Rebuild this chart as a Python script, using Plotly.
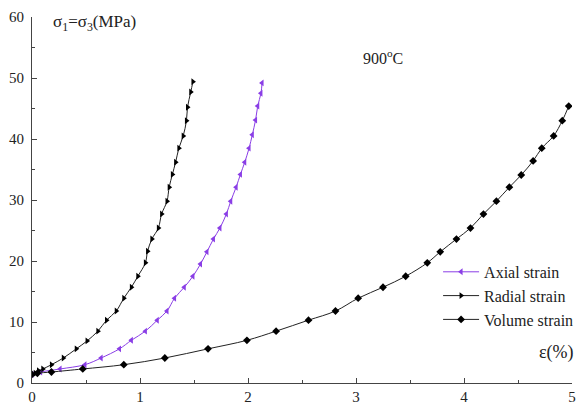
import plotly.graph_objects as go

axial_x = [0.00, 0.08, 0.26, 0.49, 0.64, 0.81, 0.92, 1.05, 1.16, 1.25, 1.32, 1.41, 1.49, 1.56,
           1.62, 1.68, 1.74, 1.80, 1.84, 1.89, 1.93, 1.97, 2.01, 2.04, 2.07, 2.09, 2.12, 2.13]
axial_y = [1.4, 1.8, 2.3, 3.0, 4.1, 5.6, 7.0, 8.5, 10.3, 11.8, 13.9, 15.7, 17.5, 19.5,
           21.5, 23.6, 25.4, 27.7, 29.8, 32.1, 34.2, 36.2, 38.5, 40.7, 43.1, 45.4, 47.5, 49.2]

radial_x = [0.00, 0.03, 0.06, 0.10, 0.18, 0.29, 0.41, 0.51, 0.61, 0.69, 0.78, 0.85, 0.92, 0.98,
            1.05, 1.07, 1.11, 1.17, 1.20, 1.25, 1.27, 1.30, 1.33, 1.36, 1.40, 1.43, 1.44, 1.47, 1.49]
radial_y = [1.4, 1.6, 2.0, 2.3, 3.0, 4.1, 5.6, 6.9, 8.5, 10.3, 11.8, 13.9, 15.7, 17.5,
            19.7, 21.6, 23.6, 25.4, 27.7, 29.8, 32.1, 34.2, 36.2, 38.5, 40.5, 43.0, 45.2, 47.7, 49.4]

volume_x = [0.00, 0.05, 0.18, 0.47, 0.85, 1.23, 1.63, 1.99, 2.26, 2.56, 2.81, 3.02, 3.25, 3.46,
            3.66, 3.78, 3.93, 4.06, 4.18, 4.30, 4.42, 4.53, 4.64, 4.72, 4.83, 4.91, 4.97]
volume_y = [1.4, 1.6, 1.8, 2.3, 3.0, 4.1, 5.6, 7.0, 8.5, 10.3, 11.8, 13.9, 15.7, 17.5,
            19.7, 21.5, 23.6, 25.4, 27.7, 29.8, 32.1, 34.1, 36.4, 38.5, 40.5, 43.0, 45.4]

FONT = "Liberation Serif"
PURPLE = "#8a3ee6"

fig = go.Figure()
fig.add_trace(go.Scatter(x=axial_x, y=axial_y, mode="lines+markers", name="Axial strain",
                         line=dict(color=PURPLE, width=1, shape="spline"),
                         marker=dict(symbol="triangle-left", size=6, color=PURPLE)))
fig.add_trace(go.Scatter(x=radial_x, y=radial_y, mode="lines+markers", name="Radial strain",
                         line=dict(color="#222222", width=1, shape="spline"),
                         marker=dict(symbol="triangle-right", size=6, color="#000000")))
fig.add_trace(go.Scatter(x=volume_x, y=volume_y, mode="lines+markers", name="Volume strain",
                         line=dict(color="#222222", width=1, shape="spline"),
                         marker=dict(symbol="diamond", size=6, color="#000000")))

axis_common = dict(showgrid=False, zeroline=False, showline=True, linecolor="#444444",
                   linewidth=1.2, ticks="inside", ticklen=5, tickcolor="#444444",
                   tickfont=dict(family=FONT, size=15, color="#222222"),
                   minor=dict(ticks="inside", ticklen=3, tickcolor="#444444"))

fig.update_xaxes(range=[0, 5], tick0=0, dtick=1, minor_dtick=0.5, automargin=False,
                 **axis_common)
fig.update_yaxes(range=[0, 60], tick0=0, dtick=10, minor_dtick=5, ticklabelstandoff=4,
                 automargin=False, **axis_common)

fig.update_layout(
    width=577, height=409,
    margin=dict(l=32, r=5, t=17, b=26, autoexpand=False),
    plot_bgcolor="white", paper_bgcolor="white",
    font=dict(family=FONT, size=14, color="#222222"),
    legend=dict(x=0.752, y=0.35, xanchor="left", yanchor="top",
                bgcolor="rgba(0,0,0,0)", font=dict(family=FONT, size=16),
                tracegroupgap=0, itemwidth=36),
    annotations=[
        dict(x=0.18, y=59.0, xref="x", yref="y", text="σ<sub>1</sub>=σ<sub>3</sub>(MPa)",
             showarrow=False, xanchor="left", yanchor="middle",
             font=dict(family=FONT, size=17, color="#222222")),
        dict(x=3.05, y=53.5, xref="x", yref="y", text="900<sup>o</sup>C",
             showarrow=False, xanchor="left", yanchor="middle",
             font=dict(family=FONT, size=16, color="#222222")),
        dict(x=5.0, y=5.0, xref="x", yref="y", text="ε(%)", xshift=4,
             showarrow=False, xanchor="right", yanchor="middle",
             font=dict(family=FONT, size=18, color="#222222")),
    ],
)

fig.write_html("out.html")
